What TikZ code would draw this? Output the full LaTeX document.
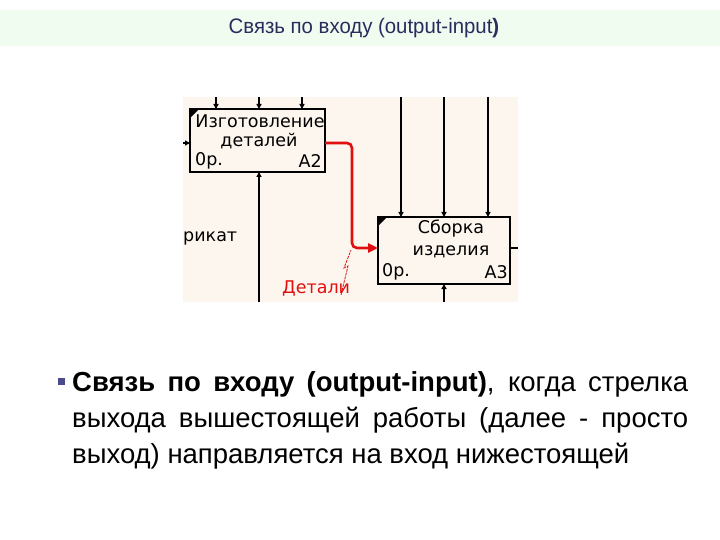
\documentclass[tikz,border=0pt]{standalone}
\usepackage{fontspec}
\setmainfont{Liberation Sans}
\newfontfamily\diagfont{DejaVu Sans}
\usetikzlibrary{arrows.meta}
\definecolor{titlebg}{HTML}{F0FCF0}
\definecolor{titlefg}{HTML}{2B2B5E}
\definecolor{diagbg}{HTML}{FDF6EE}
\definecolor{idefred}{HTML}{E01010}
\definecolor{bulletc}{HTML}{4A4A8C}
\tikzset{
  x=1pt, y=-1pt,
  actbox/.style={draw=black, line width=2.6pt, fill=diagbg},
  blk/.style={draw=black, line width=1.3pt},
  blkarr/.style={blk, -{Triangle[length=5pt,width=5pt]}},
  redarr/.style={draw=idefred, line width=2.6pt, rounded corners=5pt, -{Triangle[length=10pt,width=9pt]}},
  dtxt/.style={font=\diagfont\fontsize{17.5}{19}\selectfont, inner sep=0pt},
}
\begin{document}
\begin{tikzpicture}
\useasboundingbox (0,0) rectangle (720,540);
% title band
\fill[titlebg] (0,10) rectangle (720,46);
\node[text=titlefg, font=\fontsize{21}{24}\selectfont, xscale=0.97, inner sep=0pt] (title) at (364,28) {Связь по входу (output-input\textbf{)}};
% diagram background
\fill[diagbg] (183,97) rectangle (518,302);
% coordinates
\coordinate (a2t1) at (216,97);
\coordinate (a2t2) at (259,97);
\coordinate (a2t3) at (302,97);
\coordinate (a2l) at (183,143);
\coordinate (a2b) at (259,302);
\coordinate (a3t1) at (401,97);
\coordinate (a3t2) at (444,97);
\coordinate (a3t3) at (488,97);
\coordinate (a3b) at (444,302);
\coordinate (a3r) at (518,248);
% boxes
\draw[actbox] (190,109) rectangle (325,172);
\draw[actbox] (378,217) rectangle (510,284);
% corner markers
\fill (191,110) -- (198,110) -- (191,117) -- cycle;
\fill (379,218) -- (386,218) -- (379,225) -- cycle;
% box texts
\node[dtxt] (a2l1) at (260,121) {Изготовление};
\node[dtxt] (a2l2) at (259,141) {деталей};
\node[dtxt, anchor=west] (a2op) at (195,161) {0р.};
\node[dtxt, anchor=east] (a2n) at (322,161) {A2};
\node[dtxt] (a3l1) at (451,229) {Сборка};
\node[dtxt] (a3l2) at (451,252) {изделия};
\node[dtxt, anchor=west] (a3op) at (382,272) {0р.};
\node[dtxt, anchor=east] (a3n) at (508,272) {A3};
% arrows into A2
\draw[blkarr] (a2t1) -- (216,109);
\draw[blkarr] (a2t2) -- (259,109);
\draw[blkarr] (a2t3) -- (302,109);
\draw[blkarr] (a2l) -- (190,143);
\draw[blkarr] (a2b) -- (259,172);
% arrows into A3
\draw[blkarr] (a3t1) -- (401,217);
\draw[blkarr] (a3t2) -- (444,217);
\draw[blkarr] (a3t3) -- (488,217);
\draw[blkarr] (a3b) -- (444,284);
\draw[blk] (510,248) -- (a3r);
% red output -> input
\draw[redarr] (325,143) -- (352,143) -- (352,248) -- (378,248);
% labels
\node[dtxt, anchor=west] (rikat) at (183,238) {рикат};
\node[dtxt, anchor=west, text=idefred] (detali) at (282,288) {Детали};
\draw[idefred, line width=0.8pt, dash pattern=on 3pt off 1pt] (341,295) -- (348,266) -- (344,268) -- (351,250);
% bullet text
\fill[bulletc] (58,378) rectangle (65,385);
\node[anchor=north west, text width=616pt, align=justify, inner sep=0pt,
      font=\fontsize{27.5}{36}\selectfont] (body) at (72,371)
  {\textbf{Связь по входу (output-input)}, когда стрелка\linebreak выхода вышестоящей работы (далее - просто\linebreak выход) направляется на вход нижестоящей};
\end{tikzpicture}
\end{document}
